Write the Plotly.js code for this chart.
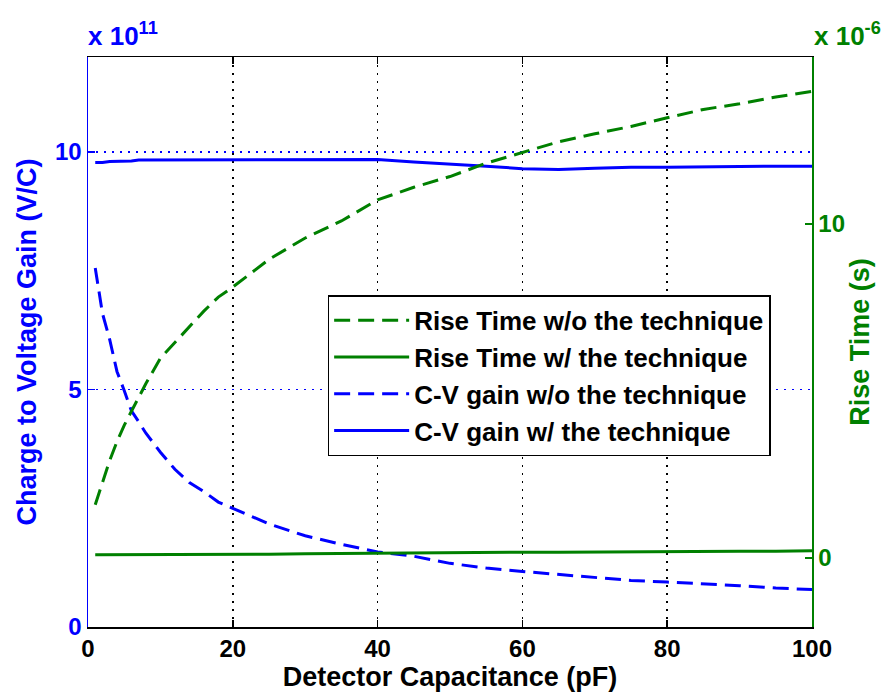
<!DOCTYPE html>
<html>
<head>
<meta charset="utf-8">
<script src="https://cdn.plot.ly/plotly-3.0.1.min.js"></script>
<style>html,body{margin:0;padding:0;background:#fff;}#chart{width:883px;height:692px;}</style>
</head>
<body>
<div id="chart"></div>
<script>
// Detector capacitance (pF)
const capacitance = [1,2,3,4,5,6,7,8,10,12,14,16,18,20,25,30,35,40,45,50,55,60,65,70,75,80,85,90,95,100];
// Rise time without the technique (x 1e-6 s)
const riseTimeWo = [1.59,2.27,2.92,3.48,3.97,4.39,4.82,5.22,5.98,6.46,6.91,7.39,7.81,8.11,8.94,9.58,10.09,10.72,11.10,11.42,11.82,12.15,12.46,12.70,12.92,13.18,13.43,13.60,13.80,13.97];
// Rise time with the technique (x 1e-6 s)
const riseTimeW = [0.09,0.09,0.09,0.09,0.09,0.09,0.09,0.09,0.09,0.10,0.10,0.10,0.10,0.10,0.11,0.12,0.13,0.15,0.15,0.16,0.16,0.17,0.17,0.18,0.18,0.19,0.19,0.20,0.20,0.21];
// C-V gain without the technique (x 1e11 V/C)
const cvGainWo = [7.56,6.60,6.05,5.38,4.98,4.55,4.32,4.08,3.68,3.32,3.04,2.85,2.63,2.50,2.17,1.92,1.74,1.58,1.49,1.34,1.24,1.17,1.11,1.04,0.98,0.945,0.91,0.87,0.82,0.79];
// C-V gain with the technique (x 1e11 V/C)
const cvGainW = [9.78,9.78,9.80,9.80,9.80,9.81,9.83,9.83,9.83,9.84,9.84,9.84,9.84,9.84,9.84,9.84,9.84,9.84,9.79,9.75,9.70,9.65,9.63,9.66,9.68,9.68,9.69,9.69,9.70,9.70];

const seriesNames = ['Rise Time w/o the technique','Rise Time w/ the technique','C-V gain w/o the technique','C-V gain w/ the technique'];
const xTicks = [0,20,40,60,80,100];
const yLeftTicks = [0,5,10];
const yRightTicks = [0,10];

const BLUE = '#0000ff', GREEN = '#008000';
const FONT = 'Liberation Sans, Arial, Helvetica, sans-serif';
const DASH = '16px,8px';
const TITLE_SIZE = 27;

const traces = [
  {x: capacitance, y: riseTimeWo, yaxis: 'y2', name: seriesNames[0], mode: 'lines', legendgroup:'a',
   line: {color: GREEN, width: 3, dash: DASH}},
  {x: capacitance, y: riseTimeW, yaxis: 'y2', name: seriesNames[1], mode: 'lines', legendgroup:'b',
   line: {color: GREEN, width: 3}},
  {x: capacitance, y: cvGainWo, yaxis: 'y', name: seriesNames[2], mode: 'lines', legendgroup:'c',
   line: {color: BLUE, width: 3, dash: DASH}},
  {x: capacitance, y: cvGainW, yaxis: 'y', name: seriesNames[3], mode: 'lines', legendgroup:'d',
   line: {color: BLUE, width: 3}}
];

const layout = {
  width: 883, height: 692,
  margin: {l: 88, r: 71, t: 57, b: 65},
  paper_bgcolor: '#fff', plot_bgcolor: '#fff',
  font: {family: FONT, size: 24, color: '#000', weight: 'bold'},
  showlegend: true,
  legend: {
    x: 0.331, y: 0.582, xanchor: 'left', yanchor: 'top',
    bgcolor: '#fff', bordercolor: '#000', borderwidth: 1.5,
    font: {family: FONT, size: 26, color: '#000', weight: 'bold'},
    itemwidth: 75, traceorder: 'grouped', tracegroupgap: 0
  },
  xaxis: {
    range: [0, 100], tickvals: xTicks, ticktext: xTicks.map(String),
    ticks: 'inside', ticklen: 7, tickcolor: '#000', tickwidth: 1.5,
    showline: true, linecolor: '#000', linewidth: 1.5, mirror: 'ticks',
    showgrid: true, gridcolor: '#000', griddash: '2px,6px', gridwidth: 1.5,
    zeroline: false,
    tickfont: {family: FONT, size: 24, color: '#000', weight: 'bold'},
    title: {text: 'Detector Capacitance (pF)', standoff: 3, font: {family: FONT, size: TITLE_SIZE, color: '#000', weight: 'bold'}}
  },
  yaxis: {
    range: [0, 12], tickvals: yLeftTicks, ticktext: yLeftTicks.map(String),
    ticks: 'inside', ticklen: 7, tickcolor: BLUE, tickwidth: 1.5,
    showline: true, linecolor: BLUE, linewidth: 1.5,
    showgrid: true, gridcolor: BLUE, griddash: '2px,6px', gridwidth: 1.5,
    zeroline: false,
    tickfont: {family: FONT, size: 24, color: BLUE, weight: 'bold'},
    title: {text: 'Charge to Voltage Gain (V/C)', standoff: 10, font: {family: FONT, size: TITLE_SIZE, color: BLUE, weight: 'bold'}}
  },
  yaxis2: {
    overlaying: 'y', side: 'right', range: [-2.07, 15.0],
    tickvals: yRightTicks, ticktext: yRightTicks.map(String),
    ticks: 'inside', ticklen: 7, tickcolor: GREEN, tickwidth: 1.5,
    showline: true, linecolor: GREEN, linewidth: 1.5,
    showgrid: false, zeroline: false,
    tickfont: {family: FONT, size: 24, color: GREEN, weight: 'bold'},
    title: {text: 'Rise Time (s)', standoff: 6, font: {family: FONT, size: TITLE_SIZE, color: GREEN, weight: 'bold'}}
  },
  annotations: [
    {xref: 'paper', yref: 'paper', x: 0, y: 1, xanchor: 'left', yanchor: 'bottom', yshift: 4, xshift: -2,
     showarrow: false, text: 'x 10<sup>11</sup>', font: {family: FONT, size: 26, color: BLUE, weight: 'bold'}},
    {xref: 'paper', yref: 'paper', x: 1, y: 1, xanchor: 'left', yanchor: 'bottom', yshift: 4, xshift: 0,
     showarrow: false, text: 'x 10<sup>-6</sup>', font: {family: FONT, size: 26, color: GREEN, weight: 'bold'}}
  ]
};

Plotly.newPlot('chart', traces, layout, {displayModeBar: false, staticPlot: true});
</script>
</body>
</html>
